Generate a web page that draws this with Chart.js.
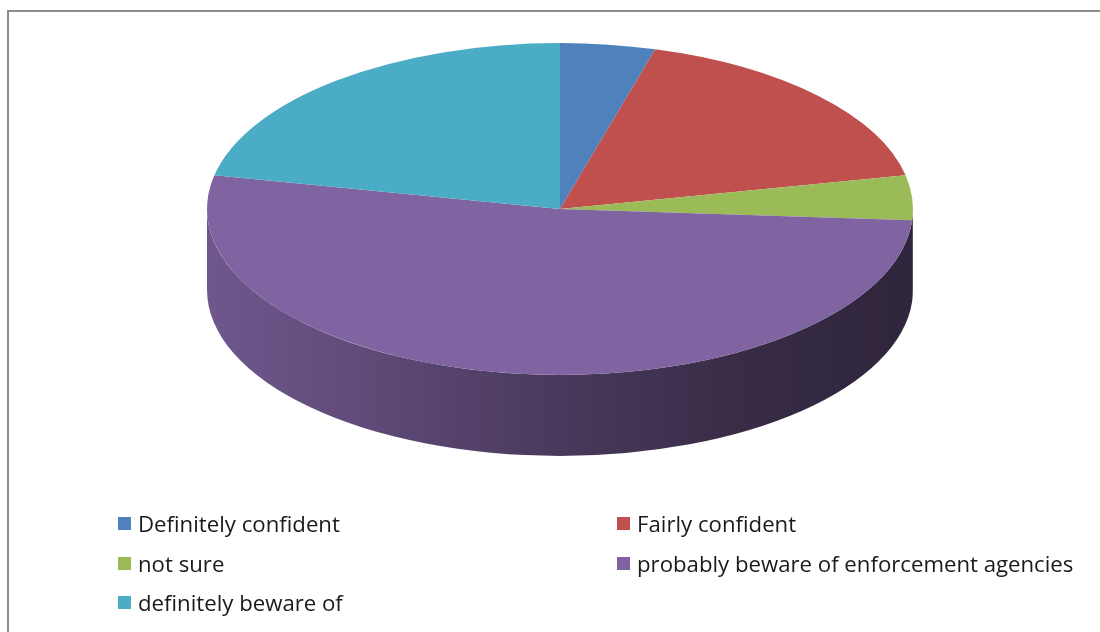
<!DOCTYPE html>
<html>
<head>
<meta charset="utf-8">
<script src="https://cdn.jsdelivr.net/npm/chart.js@4"></script>
<style>
  html, body { margin: 0; padding: 0; background: #fff; }
  #wrap { position: relative; width: 1100px; height: 632px; overflow: hidden; }
  #frame { position: absolute; left: 7px; top: 10px; width: 1200px; height: 700px;
           border-top: 2px solid #8c8c8c; border-left: 2px solid #8c8c8c; }
  canvas { position: absolute; left: 0; top: 0; }
  #legend { position: absolute; left: 118px; top: 504px; width: 980px;
            display: grid; grid-template-columns: 499px 470px; grid-auto-rows: 39.5px;
            font-family: "Open Sans", Lato, sans-serif; font-size: 22.2px; color: #1a1a1a; }
  #legend div { display: flex; align-items: center; height: 39.5px; white-space: nowrap; }
  #legend span.box { display: inline-block; width: 13px; height: 13px; margin-right: 7px; }
</style>
</head>
<body>
<div id="wrap">
  <div id="frame"></div>
  <canvas id="pie-chart" width="1100" height="632"></canvas>
  <div id="legend"></div>
</div>
<script>
const labels = ["Definitely confident", "Fairly confident", "not sure", "probably beware of enforcement agencies", "definitely beware of"];
const values = [1, 4, 1, 12, 5];
const colors = ["#4F81BD", "#C0504D", "#9BBB59", "#8064A2", "#4BACC6"];

const TILT = 0.47;   // vertical squash of the pie top
const DEPTH = 81;    // height of the pie side

function shade(hex, k) {
  const n = parseInt(hex.slice(1), 16);
  const r = Math.round(((n >> 16) & 255) * k);
  const g = Math.round(((n >> 8) & 255) * k);
  const b = Math.round((n & 255) * k);
  return "rgb(" + r + "," + g + "," + b + ")";
}

// fakes the 3d look: draws the front wall, then squashes the pie vertically
const tilt3d = {
  id: 'tilt3d',
  beforeDatasetsDraw(chart) {
    const ctx = chart.ctx;
    const arcs = chart.getDatasetMeta(0).data;
    if (!arcs.length) return;
    const cx = arcs[0].x, cy = arcs[0].y, R = arcs[0].outerRadius;
    arcs.forEach((arc, i) => {
      const a = Math.max(arc.startAngle, 0);
      const b = Math.min(arc.endAngle, Math.PI);
      if (a >= b) return;
      const col = chart.data.datasets[0].backgroundColor[i];
      const grad = ctx.createLinearGradient(cx - R, 0, cx + R, 0);
      grad.addColorStop(0, shade(col, 0.87));
      grad.addColorStop(0.2, shade(col, 0.76));
      grad.addColorStop(0.5, shade(col, 0.57));
      grad.addColorStop(0.75, shade(col, 0.44));
      grad.addColorStop(1, shade(col, 0.37));
      ctx.save();
      ctx.beginPath();
      ctx.ellipse(cx, cy, R, R * TILT, 0, a, b);
      ctx.ellipse(cx, cy + DEPTH, R, R * TILT, 0, b, a, true);
      ctx.closePath();
      ctx.fillStyle = grad;
      ctx.fill();
      ctx.restore();
    });
    ctx.save();
    ctx.translate(cx, cy);
    ctx.scale(1, TILT);
    ctx.translate(-cx, -cy);
  },
  afterDatasetsDraw(chart) {
    chart.ctx.restore();
  }
};

const chart = new Chart(document.getElementById("pie-chart"), {
    type: 'pie',
    data: {
      labels: labels,
      datasets: [
        {
          label: "Responses",
          backgroundColor: colors,
          borderWidth: 0,
          data: values
        }
      ]
    },
    options: {
      responsive: false,
      animation: false,
      radius: 353,
      layout: { padding: { left: 20, right: 0, top: 0, bottom: 214 } },
      plugins: {
        legend: { display: false },
        tooltip: { enabled: false }
      }
    },
    plugins: [tilt3d]
});

// legend laid out in two columns like the original
const legendEl = document.getElementById("legend");
chart.data.labels.forEach((lab, i) => {
  const item = document.createElement("div");
  const box = document.createElement("span");
  box.className = "box";
  box.style.background = chart.data.datasets[0].backgroundColor[i];
  item.appendChild(box);
  item.appendChild(document.createTextNode(lab));
  legendEl.appendChild(item);
});
</script>
</body>
</html>
